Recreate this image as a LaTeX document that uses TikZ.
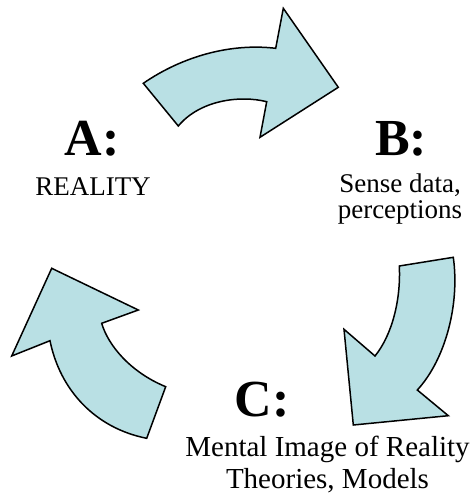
\documentclass[tikz,border=0pt]{standalone}
\usepackage{fontspec}
\setmainfont{Liberation Serif}
\definecolor{arrowfill}{RGB}{185,224,228}
\tikzset{
  bigarrow/.style={draw=black, fill=arrowfill, line width=1.5pt, line join=miter},
  letter/.style={anchor=base, inner sep=0pt, font=\fontsize{52}{52}\selectfont\bfseries},
  caption/.style={anchor=base, inner sep=0pt, font=\fontsize{27}{27}\selectfont},
  bigcaption/.style={anchor=base, inner sep=0pt, font=\fontsize{29}{29}\selectfont}
}
\begin{document}
\begin{tikzpicture}[x=1pt,y=-1pt]
\useasboundingbox (0,0) rectangle (472,497);
% top arrow (A -> B)
\draw[bigarrow] (143.3,83.3) .. controls (183,56) and (231,43) .. (275.7,48.3)
  -- (283.3,8.3) -- (338.3,87.3) -- (260,137.3) -- (266.7,101.7)
  .. controls (240,95) and (200,100) .. (178.3,126) -- cycle;
% right arrow (B -> C)
\draw[bigarrow] (453.3,257.3) -- (399.3,266) .. controls (401,300) and (392,335) .. (375,356)
  -- (344,329.3) -- (353.3,425) -- (448.3,415.7) -- (417.3,390)
  .. controls (445,360) and (460,305) .. (453.3,257.3) -- cycle;
% left arrow (C -> A)
\draw[bigarrow] (146.7,438.3) -- (165.7,386.7) .. controls (130,372) and (108,345) .. (101.7,323.3)
  -- (138.3,310) -- (51.7,268.3) -- (11.7,356) -- (50,340.7)
  .. controls (60,390) and (95,428) .. (146.7,438.3) -- cycle;
% labels
\node[letter] (A) at (92,155) {A:};
\node[caption] (Areal) at (93,195) {REALITY};
\node[letter] (B) at (401,155) {B:};
\node[caption] (Bsense) at (400,192) {Sense data,};
\node[caption] (Bperc) at (400,218.5) {perceptions};
\node[letter] (C) at (262,416) {C:};
\node[bigcaption] (Cment) at (327.5,456.5) {Mental Image of Reality};
\node[bigcaption] (Cthe) at (327.5,488) {Theories, Models};
\end{tikzpicture}
\end{document}
